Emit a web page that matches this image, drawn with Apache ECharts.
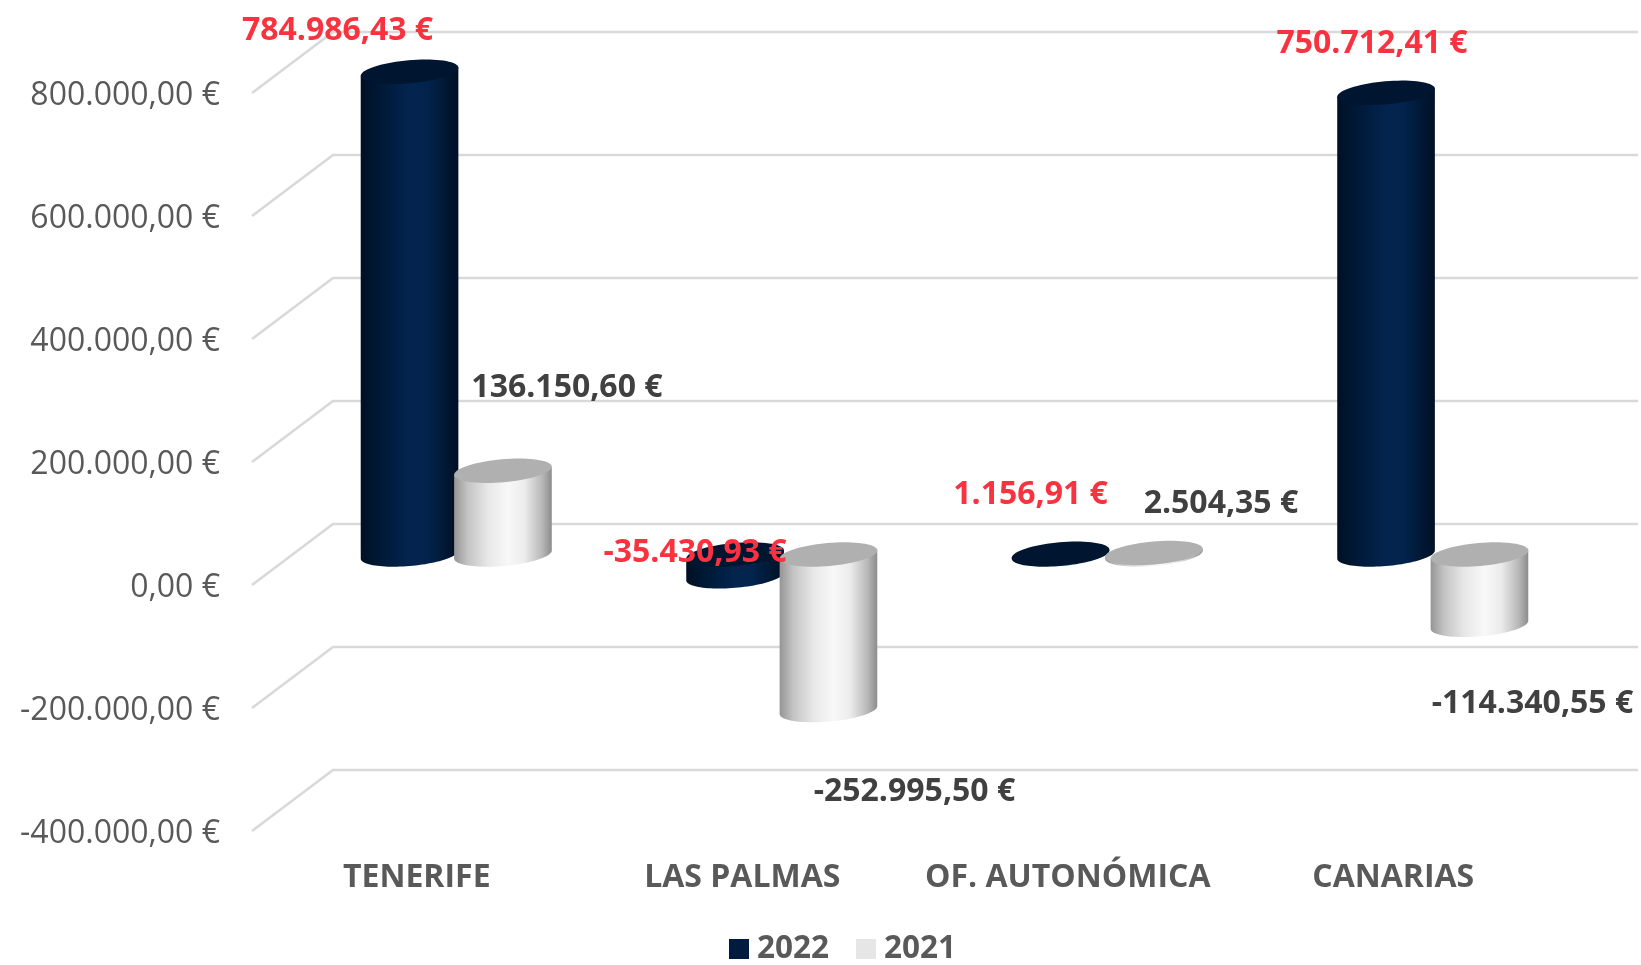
<!DOCTYPE html>
<html>
<head>
<meta charset="utf-8">
<style>html,body{margin:0;padding:0;background:#fff}#c{width:1641px;height:965px}</style>
<script src="https://cdn.jsdelivr.net/npm/echarts@6/dist/echarts.min.js"></script>
</head>
<body>
<div id="c"></div>
<script>
const categories = ['TENERIFE', 'LAS PALMAS', 'OF. AUTONÓMICA', 'CANARIAS'];
const values2022 = [784986.43, -35430.93, 1156.91, 750712.41];
const values2021 = [136150.60, -252995.50, 2504.35, -114340.55];
const yTicks = [-400000, -200000, 0, 200000, 400000, 600000, 800000];
const yMin = -400000, yMax = 800000, yStep = 200000;

// label placement relative to each cylinder's end (px)
const labelOffsets2022 = [[-72, -41], [-40, -23], [-30, -59], [-14, -49]];
const labelOffsets2021 = [[64, -83], [86, 81.5], [67, -49], [53, 79]];

const FONT = '"Open Sans", "Noto Sans", sans-serif';
const DEPTH_X = 81, DEPTH_Y = 61;
// the axis labels sit slightly off the front edge of the floor planes
const SHIFT_X = 1, SHIFT_Y = 3;
const BAR_A = 49, BAR_B = 11.5, BAR_T = 5 * Math.PI / 180, BAR_SHIFT = 46.7;

function esFormat(v) {
  const neg = v < 0;
  const parts = Math.abs(v).toFixed(2).split('.');
  const int = parts[0].replace(/\B(?=(\d{3})+(?!\d))/g, '.');
  return (neg ? '-' : '') + int + ',' + parts[1] + ' €';
}
function ellipsePoint(cx, cy, t) {
  return [
    cx + BAR_A * Math.cos(t) * Math.cos(BAR_T) + BAR_B * Math.sin(t) * Math.sin(BAR_T),
    cy - BAR_A * Math.cos(t) * Math.sin(BAR_T) + BAR_B * Math.sin(t) * Math.cos(BAR_T)
  ];
}
function ellipsePoints(cx, cy) {
  const p = [];
  for (let i = 0; i < 72; i++) p.push(ellipsePoint(cx, cy, i / 72 * Math.PI * 2));
  return p;
}
function lin(stops) {
  return {type: 'linear', x: 0, y: 0, x2: 1, y2: 0, colorStops: stops.map(s => ({offset: s[0], color: s[1]}))};
}
const bodyNavy = lin([[0, '#000f24'], [0.12, '#00162f'], [0.3, '#001d3f'], [0.5, '#03244e'], [0.68, '#02234c'], [0.88, '#001732'], [1, '#001026']]);
const bodyGray = lin([[0, '#959595'], [0.14, '#c4c4c4'], [0.35, '#e8e8e8'], [0.55, '#f8f8f8'], [0.72, '#ececec'], [0.9, '#b8b8b8'], [1, '#8c8c8c']]);

function barRender(side, body, cap) {
  return function (params, api) {
    const cat = api.value(0), val = api.value(1);
    const pVal = api.coord([cat, val]);
    const pZero = api.coord([cat, 0]);
    const cx = pVal[0] - SHIFT_X + DEPTH_X / 2 + side * BAR_SHIFT;
    const yTop = Math.min(pVal[1], pZero[1]) - SHIFT_Y - DEPTH_Y / 2;
    const yBot = Math.max(pVal[1], pZero[1]) - SHIFT_Y - DEPTH_Y / 2;
    const t0 = Math.atan(BAR_B / BAR_A * Math.tan(BAR_T));
    const pts = [];
    for (let i = 0; i <= 48; i++) pts.push(ellipsePoint(cx, yBot, t0 + i / 48 * Math.PI));
    pts.push(ellipsePoint(cx, yTop, t0 + Math.PI));
    pts.push(ellipsePoint(cx, yTop, t0));
    return {
      type: 'group',
      children: [
        {type: 'polygon', shape: {points: pts}, style: {fill: body}},
        {type: 'polygon', shape: {points: ellipsePoints(cx, yTop)}, style: {fill: cap}}
      ]
    };
  };
}
function labelRender(side, offsets, color) {
  return function (params, api) {
    const cat = api.value(0), val = api.value(1);
    const p = api.coord([cat, val]);
    const cx = p[0] - SHIFT_X + DEPTH_X / 2 + side * BAR_SHIFT;
    const o = offsets[params.dataIndex];
    return {
      type: 'text', z2: 100,
      style: {
        x: cx + o[0], y: p[1] - SHIFT_Y - DEPTH_Y / 2 + o[1],
        text: esFormat(val), fill: color, align: 'center', verticalAlign: 'middle',
        font: 'bold 32px ' + FONT
      }
    };
  };
}
function gridRender(params, api) {
  const p = api.coord([0, api.value(1)]);
  const cs = params.coordSys;
  const x0 = cs.x - SHIFT_X - 1, y0 = p[1] - SHIFT_Y;
  return {
    type: 'polyline',
    shape: {points: [[x0, y0], [x0 + DEPTH_X, y0 - DEPTH_Y], [cs.x + cs.width + 82, y0 - DEPTH_Y]]},
    style: {stroke: '#d9d9d9', lineWidth: 2.6, fill: 'none'}
  };
}
const toData = arr => arr.map((v, i) => [i, v]);

const chart = echarts.init(document.getElementById('c'));
chart.setOption({
  animation: false,
  backgroundColor: '#fff',
  grid: {left: 253 + SHIFT_X, top: 93 + SHIFT_Y, width: 1302, height: 738, containLabel: false},
  legend: {
    left: 724, top: 928, itemWidth: 20, itemHeight: 20, itemGap: 27,
    icon: 'rect',
    selectedMode: false,
    textStyle: {fontFamily: FONT, fontWeight: 'bold', fontSize: 31.5, color: '#595959', padding: [0, 0, 0, 3]},
    data: [
      {name: '2022', itemStyle: {color: '#001a40'}},
      {name: '2021', itemStyle: {color: '#e6e6e6'}}
    ]
  },
  xAxis: {
    type: 'category', data: categories,
    axisLine: {show: false}, axisTick: {show: false}, splitLine: {show: false},
    axisLabel: {margin: 28, fontFamily: FONT, fontWeight: 'bold', fontSize: 32, color: '#595959', interval: 0}
  },
  yAxis: {
    type: 'value', min: yMin, max: yMax, interval: yStep,
    axisLine: {show: false}, axisTick: {show: false}, splitLine: {show: false},
    axisLabel: {margin: 34, fontFamily: FONT, fontSize: 32, color: '#595959', formatter: v => esFormat(v)}
  },
  series: [
    {type: 'custom', silent: true, clip: false, z: 1, renderItem: gridRender, data: yTicks.map(t => [0, t])},
    {type: 'custom', name: '2022', silent: true, clip: false, z: 2, itemStyle: {color: '#001a40'},
      renderItem: barRender(-1, bodyNavy, '#00152f'), data: toData(values2022)},
    {type: 'custom', name: '2021', silent: true, clip: false, z: 3, itemStyle: {color: '#e6e6e6'},
      renderItem: barRender(1, bodyGray, '#b0b0b0'), data: toData(values2021)},
    {type: 'custom', silent: true, clip: false, z: 10,
      renderItem: labelRender(-1, labelOffsets2022, '#f9323f'), data: toData(values2022)},
    {type: 'custom', silent: true, clip: false, z: 10,
      renderItem: labelRender(1, labelOffsets2021, '#404040'), data: toData(values2021)}
  ]
});
</script>
</body>
</html>
